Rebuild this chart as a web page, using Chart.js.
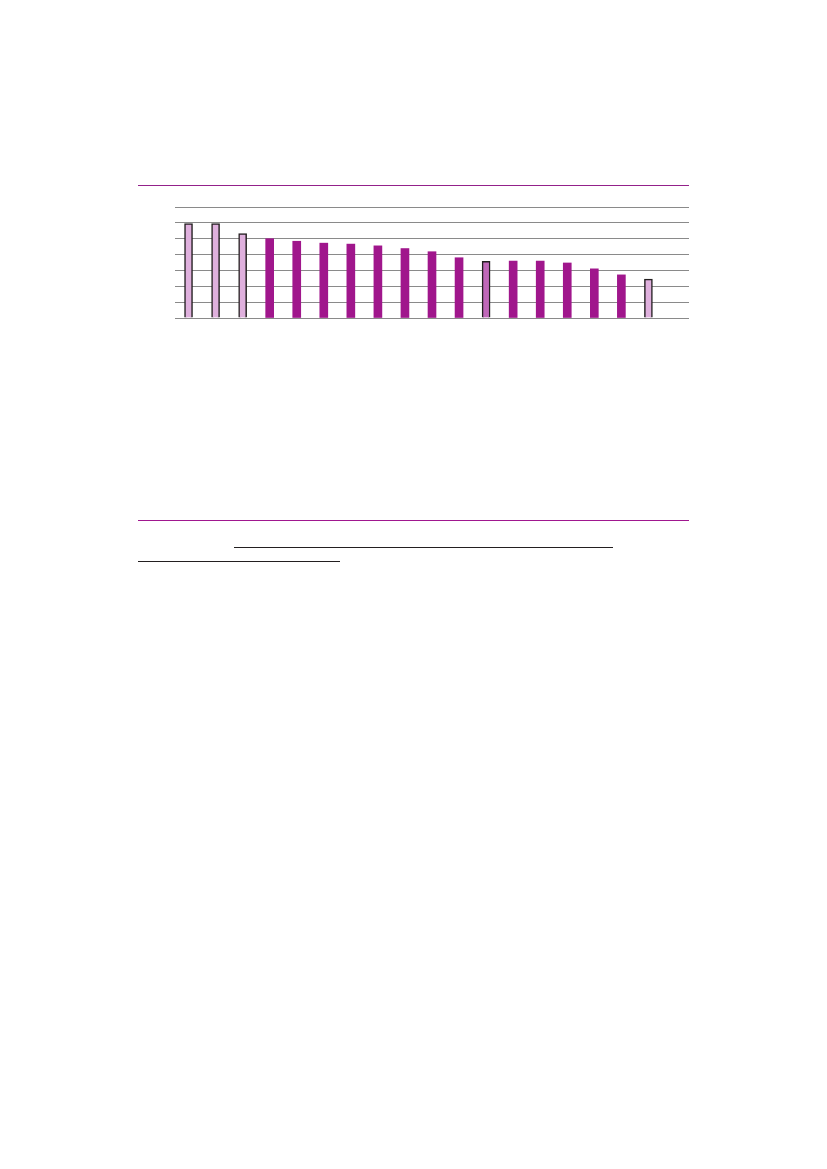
<!DOCTYPE html>
<html>
<head>
<meta charset="utf-8">
<script src="https://cdn.jsdelivr.net/npm/chart.js@4"></script>
<style>
  body { margin: 0; background: #fff; width: 827px; height: 1169px; position: relative; font-family: "Liberation Sans", Arial, sans-serif; }
  .rule { position: absolute; height: 1px; background: #a0178f; }
  .uline { position: absolute; height: 1px; background: #231f20; }
  #wrap { position: absolute; left: 175px; top: 200px; width: 514px; height: 125px; }
</style>
</head>
<body>
<div class="rule" style="left:138px; top:185px; width:551px; background:#93218a;"></div>
<div id="wrap"><canvas id="chart"></canvas></div>
<div class="rule" style="left:138px; top:520px; width:551px;"></div>
<div class="uline" style="left:234px; top:547px; width:379px;"></div>
<div class="uline" style="left:138px; top:561px; width:202px;"></div>

<script>
// 막대 데이터
const categories = ['1', '2', '3', '4', '5', '6', '7', '8', '9', '10',
  '11', '12', '13', '14', '15', '16', '17', '18', '19'];
const values = [5.95, 5.95, 5.33, 5.0, 4.84, 4.72, 4.66, 4.55, 4.38, 4.18,
  3.8, 3.58, 3.59, 3.59, 3.47, 3.1, 2.72, 2.45, null];
// 막대 종류: ref = 연한 분홍(테두리), avg = 중간 분홍(테두리), main = 진한 자주
const kinds = ['ref', 'ref', 'ref', 'main', 'main', 'main', 'main', 'main', 'main', 'main',
  'main', 'avg', 'main', 'main', 'main', 'main', 'main', 'ref', 'main'];
const yTicks = [0, 1, 2, 3, 4, 5, 6, 7];

const fillFor = { ref: '#dfb0dd', avg: '#c068b9', main: '#a0168c' };
const borderFor = { ref: 1.5, avg: 1.5, main: 0 };

const ctx = document.getElementById('chart').getContext('2d');
new Chart(ctx, {
  type: 'bar',
  data: {
    labels: categories,
    datasets: [{
      data: values,
      backgroundColor: kinds.map(k => fillFor[k]),
      borderColor: '#231f20',
      borderWidth: kinds.map(k => borderFor[k]),
      borderSkipped: 'bottom',
      barThickness: 8
    }]
  },
  options: {
    responsive: true,
    maintainAspectRatio: false,
    animation: false,
    layout: { padding: { top: 7, bottom: 7, left: 0, right: 0 } },
    plugins: { legend: { display: false }, tooltip: { enabled: false } },
    scales: {
      x: { display: false },
      y: {
        min: yTicks[0],
        max: yTicks[yTicks.length - 1],
        afterBuildTicks: axis => { axis.ticks = yTicks.map(v => ({ value: v })); },
        ticks: { display: false },
        grid: { color: '#8a8a8a', lineWidth: 1, drawTicks: false },
        border: { display: false }
      }
    }
  }
});
</script>
</body>
</html>
